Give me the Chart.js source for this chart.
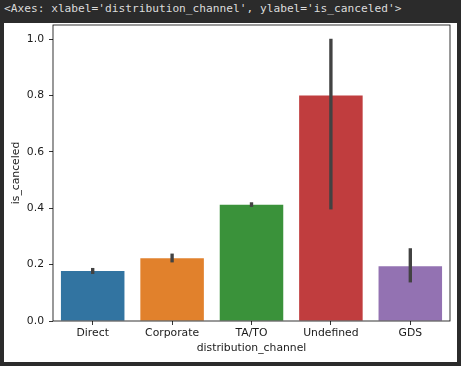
<!DOCTYPE html>
<html>
<head>
<meta charset="utf-8">
<script src="https://cdn.jsdelivr.net/npm/chart.js@4/dist/chart.umd.min.js"></script>
<style>
  html, body { margin: 0; padding: 0; background: #2b2b2b; }
  #wrap { position: relative; width: 461px; height: 366px; overflow: hidden; }
  #header { position: absolute; left: 4px; top: 1px; font-family: "DejaVu Sans Mono", monospace;
    font-size: 11.2px; color: #dcdcdc; white-space: pre; line-height: 16px; }
  #paper { position: absolute; left: 4px; top: 23px; width: 453px; height: 339px; background: #fff; }
  #chart { position: absolute; left: 0; top: 0; }
</style>
</head>
<body>
<div id="wrap">
  <div id="header">&lt;Axes: xlabel='distribution_channel', ylabel='is_canceled'&gt;</div>
  <div id="paper"></div>
  <canvas id="chart" width="461" height="366"></canvas>
</div>
<script>
// the data
const channels = ["Direct", "Corporate", "TA/TO", "Undefined", "GDS"];
const cancel_rate = [0.177, 0.223, 0.412, 0.8, 0.194];
const ci_low = [0.168, 0.209, 0.406, 0.397, 0.138];
const ci_high = [0.187, 0.238, 0.420, 1.0, 0.257];
const bar_colors = ["#3274a1", "#e1812c", "#3a923a", "#c03d3e", "#9372b2"];
const y_ticks = [0.0, 0.2, 0.4, 0.6, 0.8, 1.0];

const font = { family: "'DejaVu Sans', sans-serif", size: 10.8 };
const ink = "#1a1a1a";

// draws the box round the axes like matplotlib's spines
const frame = {
  id: "frame",
  afterDraw(chart) {
    const { ctx, chartArea: a } = chart;
    ctx.save();
    ctx.strokeStyle = "#000";
    ctx.lineWidth = 0.8;
    ctx.strokeRect(a.left, a.top, a.right - a.left, a.bottom - a.top);
    ctx.restore();
  }
};

const config = {
  type: "bar",
  data: {
    labels: channels,
    datasets: [
      {
        // error bars as thin floating bars
        label: "ci",
        data: ci_low.map((lo, i) => [lo, ci_high[i]]),
        backgroundColor: "#424242",
        barThickness: 2.7,
        grouped: false,
        order: 0
      },
      {
        label: "is_canceled",
        data: cancel_rate,
        backgroundColor: bar_colors,
        borderWidth: 0,
        barPercentage: 0.8,
        categoryPercentage: 1.0,
        grouped: false,
        order: 1
      }
    ]
  },
  options: {
    responsive: false,
    animation: false,
    layout: { padding: { left: 0, top: 25, right: 11, bottom: 0 } },
    plugins: { legend: { display: false }, tooltip: { enabled: false } },
    scales: {
      x: {
        offset: true,
        grid: { offset: false, drawOnChartArea: false, drawTicks: true, tickLength: 4, tickWidth: 0.8, tickColor: "#000" },
        border: { display: false },
        ticks: { font: font, color: ink, padding: 1.5 },
        title: { display: true, text: "distribution_channel", font: font, color: ink, padding: { top: 0, bottom: 11.5 } },
        afterFit(scale) { scale.height = 45; }
      },
      y: {
        min: 0,
        max: 1.05,
        grid: { drawOnChartArea: false, drawTicks: true, tickLength: 4, tickWidth: 0.8, tickColor: "#000" },
        border: { display: false },
        ticks: { font: font, color: ink, padding: 5, callback: (v) => v.toFixed(1) },
        afterBuildTicks(scale) { scale.ticks = y_ticks.map((v) => ({ value: v })); },
        title: { display: true, text: "is_canceled", font: font, color: ink, padding: { top: 10, bottom: 0 } },
        afterFit(scale) { scale.width = 53; }
      }
    }
  },
  plugins: [frame]
};

new Chart(document.getElementById("chart").getContext("2d"), config);
</script>
</body>
</html>
